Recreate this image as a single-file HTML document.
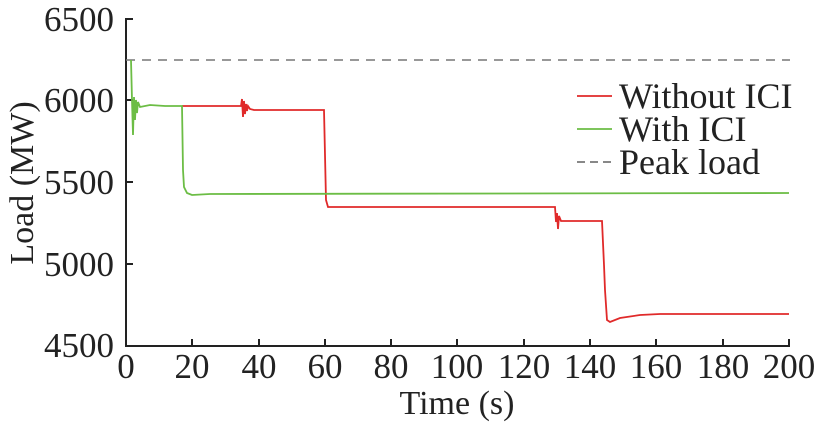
<!DOCTYPE html>
<html><head><style>body{margin:0;background:#fff}svg text{font-family:"Liberation Serif",serif;fill:#222}</style></head>
<body>
<svg width="815" height="427" viewBox="0 0 815 427" xmlns="http://www.w3.org/2000/svg">
<g font-size="35" text-anchor="end">
<text x="114" y="31">6500</text>
<text x="114" y="112">6000</text>
<text x="114" y="194">5500</text>
<text x="114" y="276">5000</text>
<text x="114" y="357">4500</text>
</g>
<g font-size="35" text-anchor="middle">
<text x="126" y="378">0</text><text x="192" y="378">20</text><text x="259" y="378">40</text><text x="325" y="378">60</text><text x="391" y="378">80</text><text x="457" y="378">100</text><text x="524" y="378">120</text><text x="590" y="378">140</text><text x="656" y="378">160</text><text x="723" y="378">180</text><text x="789" y="378">200</text>
<text x="457" y="414" font-size="34">Time (s)</text>
<text transform="translate(33,183) rotate(-90)" font-size="34">Load (MW)</text>
</g>
<g stroke="#222" stroke-width="2" fill="none">
<path d="M126,18V346H790"/>
<path d="M126,19h7M126,100h7M126,182h7M126,264h7M192,346v-7M259,346v-7M325,346v-7M391,346v-7M457,346v-7M524,346v-7M590,346v-7M656,346v-7M723,346v-7M789,346v-7"/>
</g>
<path d="M126,60H790" stroke="#777" stroke-width="1.6" stroke-dasharray="9,7"/>
<path d="M182,106H241L242,99L243,117L244,101L245,114L246,104L247,111L248,106L250,109L254,110H324L326,200L328,207H555L556,222L557,213L558,229L559,216L561,221H602L604,265L605,290L607,320L610,322L620,318L640,315L660,314H789" stroke="#e02a2a" stroke-width="1.8" fill="none"/>
<path d="M131,60L132,100L133,135L134,97L135,120L136,100L137,113L138,102L140,107L150,105L165,106H182L183,170L184,187L187,193L192,195L210,194L789,193" stroke="#6cbd45" stroke-width="1.8" fill="none"/>
<g stroke-width="1.8">
<path d="M577,96h35" stroke="#e02a2a"/>
<path d="M577,129h35" stroke="#6cbd45"/>
<path d="M577,162h35" stroke="#777" stroke-dasharray="8,5"/>
</g>
<g font-size="36">
<text x="619" y="108">Without ICI</text>
<text x="619" y="141">With ICI</text>
<text x="619" y="174">Peak load</text>
</g>
</svg>
</body></html>
